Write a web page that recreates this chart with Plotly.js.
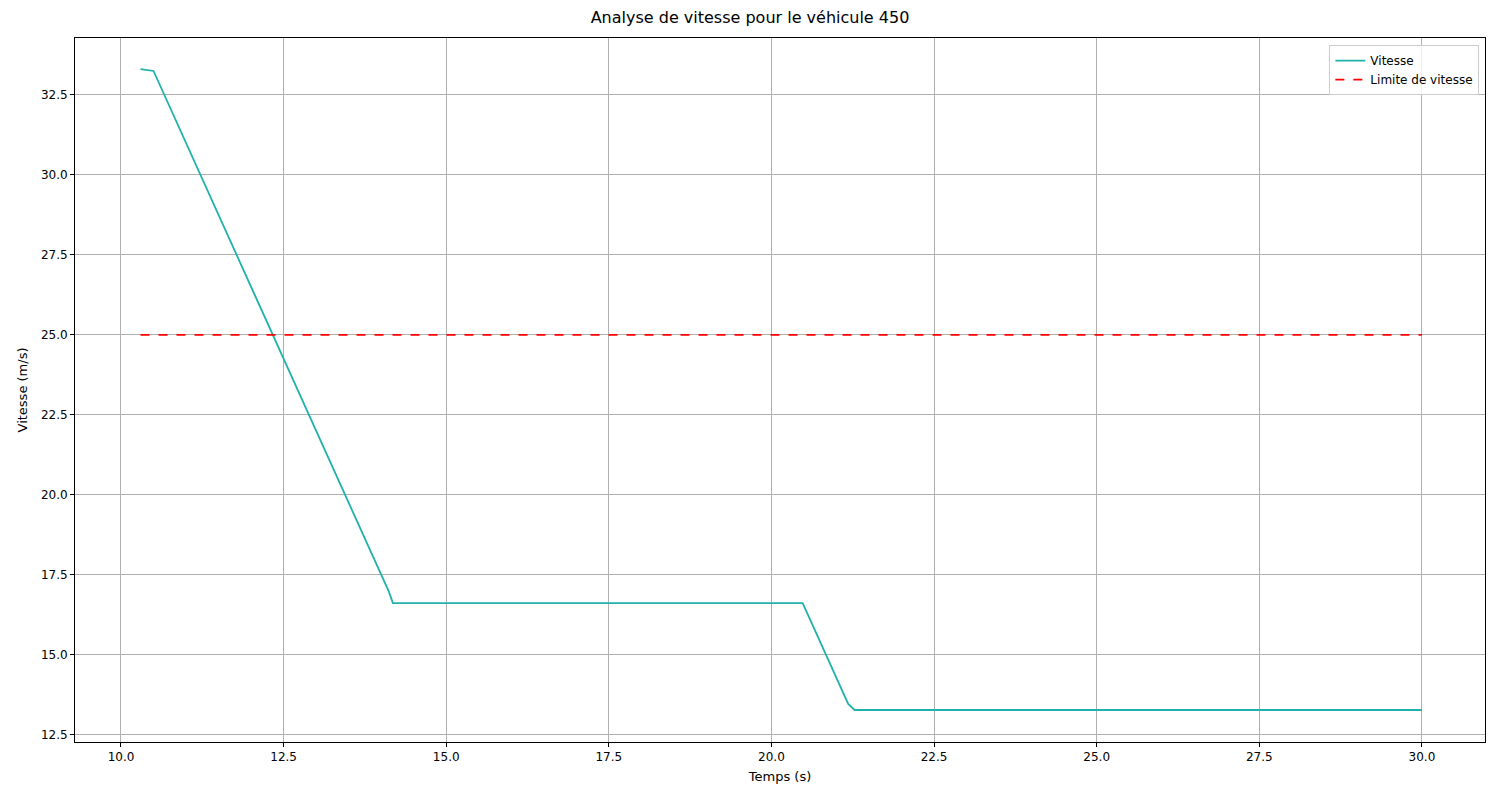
<!DOCTYPE html>
<html>
<head>
<meta charset="utf-8">
<script src="https://cdn.plot.ly/plotly-3.0.1.min.js"></script>
<style>body{margin:0}#chart{width:1500px;height:800px}</style>
</head>
<body>
<div id="chart"></div>
<script>
// speed profile
var temps = [10.3, 10.5, 14.12, 14.18, 20.48, 21.18, 21.28, 30.0];
var vitesse = [33.31, 33.25, 16.97, 16.62, 16.62, 13.47, 13.28, 13.28];
var limiteTemps = [10.3, 30.0];
var limite = [25, 25];

var traces = [
  {x: temps, y: vitesse, mode: 'lines', name: 'Vitesse',
   line: {color: '#20b2aa', width: 1.8}},
  {x: limiteTemps, y: limite, mode: 'lines', name: 'Limite de vitesse',
   line: {color: '#ff0000', width: 1.8, dash: 'dash'}}
];

var axisStyle = {
  showgrid: true, gridcolor: '#b0b0b0', gridwidth: 1,
  showline: true, linecolor: '#000', linewidth: 1, mirror: true,
  ticks: 'outside', ticklen: 4, tickcolor: '#000', zeroline: false,
  tickfont: {size: 12, color: '#000'}
};

var layout = {
  width: 1500, height: 800,
  font: {family: 'DejaVu Sans', color: '#000'},
  paper_bgcolor: '#fff', plot_bgcolor: '#fff',
  margin: {l: 75, r: 15, t: 38, b: 58},
  title: {text: 'Analyse de vitesse pour le véhicule 450', font: {size: 16},
    x: 0.5, y: 0.99, yanchor: 'top', pad: {t: 4}},
  xaxis: Object.assign({}, axisStyle, {
    range: [9.293, 30.97], tickvals: [10, 12.5, 15, 17.5, 20, 22.5, 25, 27.5, 30],
    ticktext: ['10.0','12.5','15.0','17.5','20.0','22.5','25.0','27.5','30.0'],
    title: {text: 'Temps (s)', font: {size: 13}, standoff: 8}
  }),
  yaxis: Object.assign({}, axisStyle, {
    range: [12.28, 34.28], tickvals: [12.5, 15, 17.5, 20, 22.5, 25, 27.5, 30, 32.5],
    ticktext: ['12.5','15.0','17.5','20.0','22.5','25.0','27.5','30.0','32.5'],
    title: {text: 'Vitesse (m/s)', font: {size: 13}, standoff: 10}
  }),
  legend: {x: 0.996, y: 0.99, xanchor: 'right', yanchor: 'top',
    bgcolor: 'rgba(255,255,255,0.8)', bordercolor: '#ccc', borderwidth: 1,
    font: {size: 12}, tracegroupgap: 0},
  showlegend: true
};

Plotly.newPlot('chart', traces, layout, {displayModeBar: false});
</script>
</body>
</html>
